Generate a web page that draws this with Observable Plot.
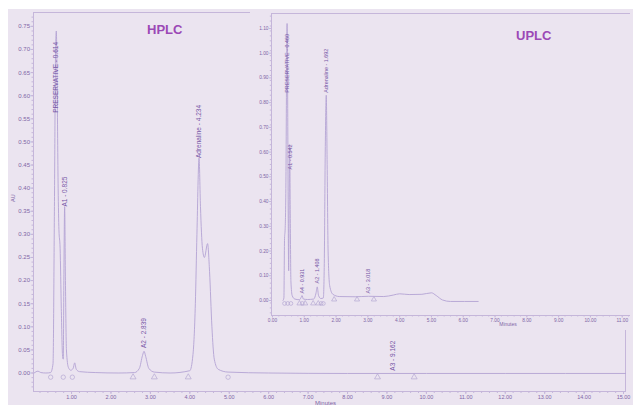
<!DOCTYPE html>
<html><head><meta charset="utf-8">
<script src="https://cdn.jsdelivr.net/npm/d3@7"></script>
<script src="https://cdn.jsdelivr.net/npm/@observablehq/plot@0.6"></script>
<style>
html,body{margin:0;padding:0;background:#fff;}
#wrap{position:relative;width:633px;height:405px;overflow:hidden;background:#fff;font-family:"Liberation Sans",Arial,sans-serif;}
#bg{position:absolute;left:8px;top:9px;right:0;bottom:0;background:#ebe4f0;}
#main{position:absolute;left:0;top:0;}
#inset{position:absolute;left:250px;top:9px;}
.title{position:absolute;font-weight:bold;font-size:13px;color:#9b48b6;line-height:15px;}
</style></head><body>
<div id="wrap"><div id="bg"></div><div id="main"></div><div id="inset"></div>
<div class="title" style="left:147px;top:22px">HPLC</div>
<div class="title" style="left:516px;top:28px">UPLC</div>
</div>
<script>
// ---- HPLC chromatogram (time in min, AU) ----
const hplcTrace = [
[0.05,0.000],[0.15,0.004],[0.22,0.001],[0.35,0.000],[0.47,0.001],[0.53,0.02],[0.565,0.35],[0.595,0.70],[0.614,0.74],[0.635,0.62],[0.66,0.40],[0.68,0.31],[0.71,0.27],[0.74,0.14],[0.77,0.04],[0.79,0.03],[0.805,0.20],[0.825,0.36],[0.845,0.20],[0.87,0.05],[0.92,0.012],[0.98,0.006],[1.04,0.010],[1.08,0.022],[1.12,0.008],[1.2,0.003],[1.6,0.001],[2.2,0.0],[2.6,0.001],[2.72,0.010],[2.80,0.038],[2.839,0.047],[2.88,0.036],[2.96,0.010],[3.1,0.002],[3.5,0.0],[4.0,0.005],[4.08,0.04],[4.14,0.15],[4.18,0.30],[4.234,0.465],[4.27,0.36],[4.32,0.27],[4.37,0.25],[4.45,0.28],[4.50,0.22],[4.56,0.10],[4.62,0.03],[4.72,0.008],[4.97,0.002],[6,0.0],[8,-0.001],[10,-0.001],[12,-0.001],[15.05,-0.001]
];
const hplcPeakLabels = [
{t:0.614,y:0.563,label:"PRESERVATIVE - 0.614"},
{t:0.825,y:0.36,label:"A1 - 0.825"},
{t:2.839,y:0.054,label:"A2 - 2.839"},
{t:4.234,y:0.465,label:"Adrenaline - 4.234"},
{t:9.162,y:0.005,label:"A3 - 9.162"}
];
const hplcMarkers = [
{t:0.47,y:-0.009,shape:"circle"},{t:0.79,y:-0.009,shape:"circle"},{t:1.02,y:-0.009,shape:"circle"},
{t:2.56,y:-0.009,shape:"triangle"},{t:3.10,y:-0.009,shape:"triangle"},{t:3.96,y:-0.009,shape:"triangle"},
{t:4.97,y:-0.009,shape:"circle"},{t:8.76,y:-0.009,shape:"triangle"},{t:9.69,y:-0.009,shape:"triangle"}
];
const hplcXTicks = [1,2,3,4,5,6,7,8,9,10,11,12,13,14,15];
const hplcYTicks = [0,0.05,0.10,0.15,0.20,0.25,0.30,0.35,0.40,0.45,0.50,0.55,0.60,0.65,0.70,0.75];

// ---- UPLC chromatogram ----
const uplcTrace = [
[0.33,0.0],[0.36,0.01],[0.38,0.25],[0.40,0.29],[0.425,0.50],[0.445,0.95],[0.46,1.12],[0.475,0.90],[0.495,0.35],[0.51,0.12],[0.525,0.40],[0.542,0.63],[0.56,0.35],[0.58,0.08],[0.62,0.02],[0.7,0.006],[0.85,0.003],[0.9,0.012],[0.931,0.02],[0.97,0.006],[1.1,0.004],[1.3,0.006],[1.37,0.03],[1.408,0.055],[1.45,0.02],[1.52,0.008],[1.60,0.01],[1.63,0.15],[1.66,0.6],[1.692,0.83],[1.72,0.55],[1.75,0.2],[1.8,0.06],[1.9,0.025],[2.1,0.016],[2.6,0.015],[3.018,0.017],[3.5,0.016],[3.8,0.022],[4.0,0.027],[4.3,0.024],[4.7,0.025],[5.0,0.031],[5.15,0.02],[5.35,0.002],[5.6,-0.004],[6.47,-0.004]
];
const uplcPeakLabels = [
{t:0.460,y:0.84,label:"PRESERVATIVE - 0.460"},
{t:0.55,y:0.53,label:"A1 - 0.542"},
{t:0.931,y:0.028,label:"A4 - 0.931"},
{t:1.408,y:0.069,label:"A2 - 1.408"},
{t:1.692,y:0.84,label:"Adrenaline - 1.692"},
{t:3.018,y:0.028,label:"A3 - 3.018"}
];
const uplcMarkers = [
{t:0.38,y:-0.012,shape:"circle"},{t:0.48,y:-0.012,shape:"circle"},{t:0.58,y:-0.012,shape:"circle"},
{t:0.85,y:-0.012,shape:"triangle"},{t:0.94,y:-0.012,shape:"circle"},{t:1.03,y:-0.012,shape:"triangle"},
{t:1.28,y:-0.012,shape:"triangle"},{t:1.44,y:-0.012,shape:"triangle"},{t:1.53,y:-0.012,shape:"circle"},{t:1.60,y:-0.012,shape:"circle"},
{t:1.94,y:0.004,shape:"triangle"},{t:2.66,y:0.004,shape:"triangle"},{t:3.19,y:0.004,shape:"triangle"}
];
const uplcXTicks = [0,1,2,3,4,5,6,7,8,9,10,11];
const uplcYTicks = [0,0.1,0.2,0.3,0.4,0.5,0.6,0.7,0.8,0.9,1.0,1.1];

const C = {bg:"#ebe4f0", trace:"#b3a3d4", frame:"#c5b6da", tick:"#7f66a6", label:"#7656a6", marker:"#b5a7d3"};
const font = "Liberation Sans, Arial, sans-serif";
const fmt = d => d.toFixed(2);

function markersOf(list, r) {
  return [
    Plot.dot(list.filter(d => d.shape === "circle"), {x:"t", y:"y", symbol:"circle", r, stroke:C.marker, fill:"none", strokeWidth:0.7}),
    Plot.dot(list.filter(d => d.shape === "triangle"), {x:"t", y:"y", symbol:"triangle", r, stroke:C.marker, fill:"none", strokeWidth:0.7})
  ];
}

const main = Plot.plot({
  width:633, height:405, marginLeft:33, marginRight:8, marginTop:12, marginBottom:14,
  style:{background:"transparent", fontFamily:font},
  x:{domain:[0.035,15.05]}, y:{domain:[-0.04,0.78]},
  marks:[
    Plot.frame({stroke:C.frame}),
    Plot.axisX(d3.range(0.2,15.05,0.2), {tickSize:2, tickFormat:() => "", stroke:C.frame, label:null}),
    Plot.axisX(hplcXTicks, {tickSize:3, tickPadding:1, tickFormat:fmt, fontSize:5.5, stroke:C.frame, fill:C.tick, label:null}),
    Plot.axisY(d3.range(-0.03,0.78,0.01), {tickSize:1.5, tickFormat:() => "", stroke:C.frame, label:null}),
    Plot.axisY(hplcYTicks, {tickSize:2.5, tickPadding:1, tickFormat:fmt, fontSize:6, stroke:C.frame, fill:C.tick, label:null}),
    Plot.line(hplcTrace, {x:d => d[0], y:d => d[1], stroke:C.trace, strokeWidth:0.9, curve:"monotone-x"}),
    ...markersOf(hplcMarkers, 2.2),
    Plot.text(hplcPeakLabels, {x:"t", y:"y", text:"label", rotate:-90, textAnchor:"start", fontSize:6.5, fill:C.label}),
    Plot.text(["AU"], {frameAnchor:"left", dx:-20, rotate:-90, fontSize:5.5, fill:C.tick}),
    Plot.text(["Minutes"], {frameAnchor:"bottom", dx:-4, dy:12, lineAnchor:"middle", fontSize:6, fill:C.tick})
  ]
});
document.getElementById("main").appendChild(main);

const inset = Plot.plot({
  width:383, height:321, marginLeft:21, marginRight:3, marginTop:4, marginBottom:15,
  style:{background:C.bg, fontFamily:font},
  x:{domain:[-0.03,11.26]}, y:{domain:[-0.0607,1.1605]},
  marks:[
    Plot.ruleX([-0.03], {stroke:C.frame}),
    Plot.ruleY([1.1605], {stroke:C.frame}),
    Plot.ruleY([-0.0607], {stroke:C.frame}),
    Plot.axisX(d3.range(0.2,11.25,0.2), {tickSize:1.5, tickFormat:() => "", stroke:C.frame, label:null}),
    Plot.axisX(uplcXTicks, {tickSize:2.5, tickPadding:1, tickFormat:fmt, fontSize:4.8, stroke:C.frame, fill:C.tick, label:null}),
    Plot.axisY(d3.range(-0.05,1.16,0.02), {tickSize:1.2, tickFormat:() => "", stroke:C.frame, label:null}),
    Plot.axisY(uplcYTicks, {tickSize:2, tickPadding:1, tickFormat:fmt, fontSize:4.8, stroke:C.frame, fill:C.tick, label:null}),
    Plot.line(uplcTrace, {x:d => d[0], y:d => d[1], stroke:C.trace, strokeWidth:0.9, curve:"monotone-x"}),
    ...markersOf(uplcMarkers, 1.9),
    Plot.text(uplcPeakLabels, {x:"t", y:"y", text:"label", rotate:-90, textAnchor:"start", fontSize:5.4, fill:C.label}),
    Plot.text(["Minutes"], {frameAnchor:"bottom", dx:57, dy:9, lineAnchor:"middle", fontSize:5, fill:C.tick})
  ]
});
document.getElementById("inset").appendChild(inset);
</script>
</body></html>
